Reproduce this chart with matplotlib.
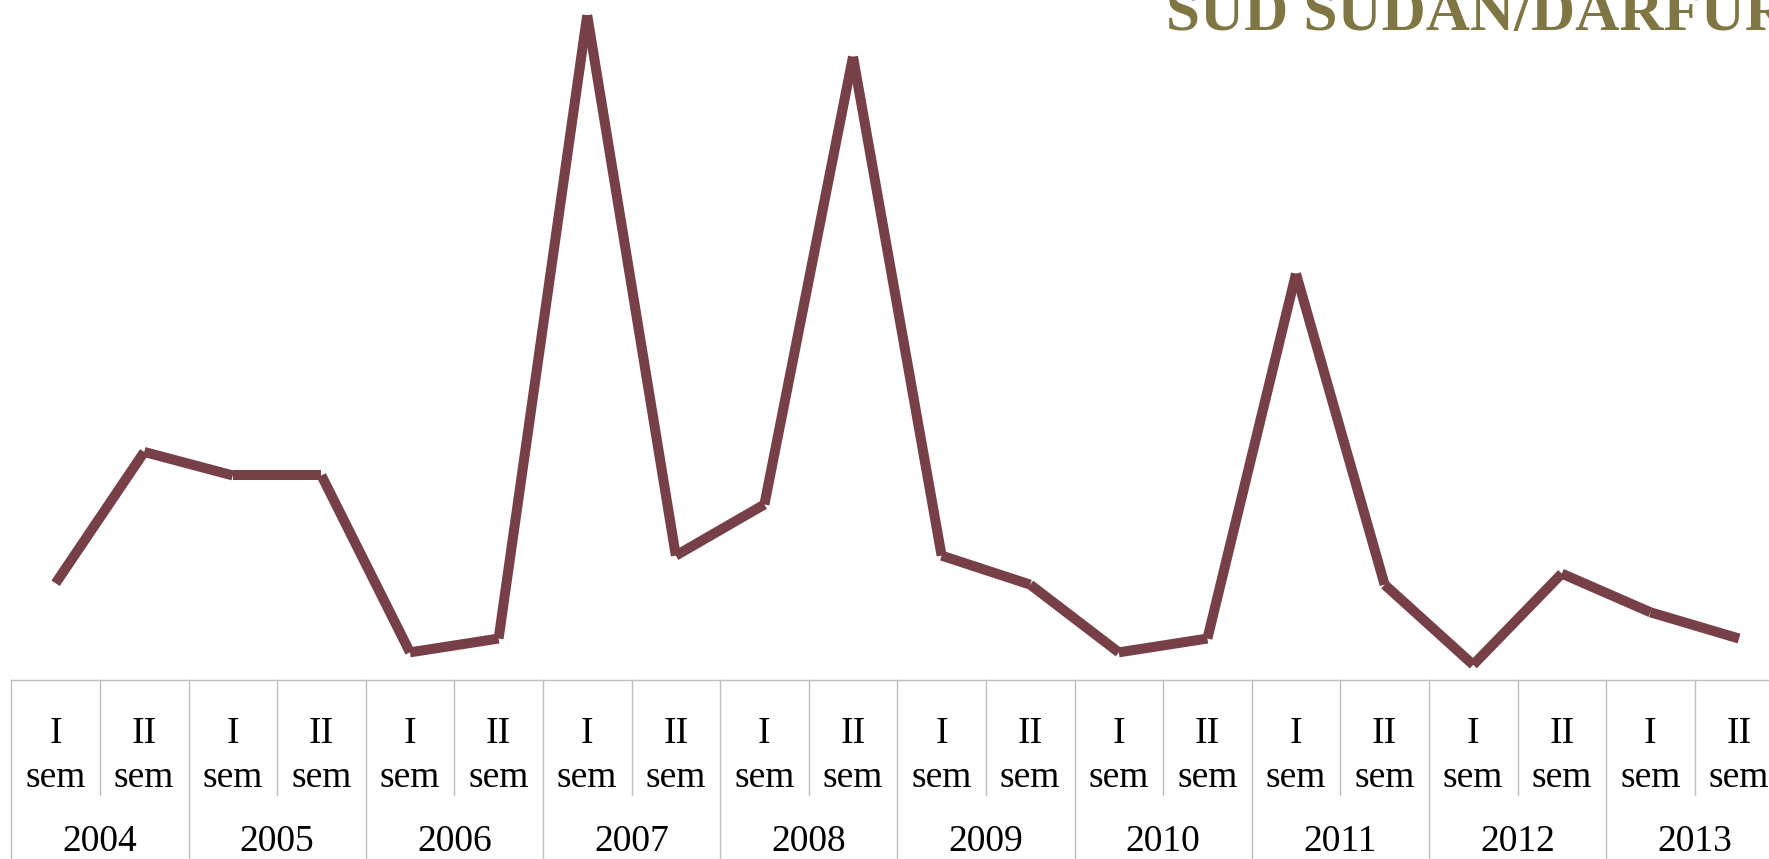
import matplotlib.pyplot as plt
import matplotlib.transforms as mtransforms

# dati (scala arbitraria, nessun asse y visibile)
anni = ['2004', '2005', '2006', '2007', '2008', '2009', '2010', '2011', '2012', '2013']
semestri = ['I', 'II']
valori = [7.0, 16.5, 14.8, 14.8, 2.0, 3.0, 48.1, 9.0, 12.7, 45.1,
          9.0, 6.9, 2.0, 3.0, 29.4, 6.9, 1.1, 7.7, 4.9, 3.0]

colore_linea = '#773F47'
colore_titolo = '#7F7643'
colore_griglia = '#BFBFBF'

W, H = 1769, 859
fig = plt.figure(figsize=(W / 100, H / 100), dpi=100)

x0 = 11.3
passo = 88.6
base = 680  # pixel dall'alto della riga della tabella
ax = fig.add_axes([x0 / W, (H - base) / H, 20 * passo / W, base / H])
ax.set_xlim(0, 20)
ax.set_ylim(0, 49.2)

# segmenti separati con estremi piatti, come in Excel
xs = [i + 0.5 for i in range(len(valori))]
for i in range(len(valori) - 1):
    ax.plot(xs[i:i + 2], valori[i:i + 2], color=colore_linea, lw=7.2,
            solid_capstyle='butt', clip_on=False)

for s in ['top', 'left', 'right']:
    ax.spines[s].set_visible(False)
ax.spines['bottom'].set_color(colore_griglia)
ax.spines['bottom'].set_linewidth(1)
ax.set_xticks([])
ax.set_yticks([])

# tabella delle categorie sotto l'asse
tr = mtransforms.blended_transform_factory(ax.transData, ax.transAxes)
for k in range(21):
    if k % 2 == 0:
        ax.plot([k, k], [0, -0.3], color=colore_griglia, lw=1, transform=tr, clip_on=False)
    else:
        ax.plot([k, k], [0, -0.169], color=colore_griglia, lw=1, transform=tr, clip_on=False)

def ybase(px):
    return -(px - base) / base

font = dict(fontsize=27, family='Liberation Serif', ha='center', va='baseline')
for i in range(20):
    ax.text(i + 0.5, ybase(743), semestri[i % 2], transform=tr, **font)
    ax.text(i + 0.5, ybase(787), 'sem', transform=tr, **font)
for j, a in enumerate(anni):
    ax.text(2 * j + 1, ybase(851), a, transform=tr, **font)

fig.text(1166 / W, (H - 30) / H, 'SUD SUDAN/DARFUR', color=colore_titolo,
         fontsize=44, fontweight='bold', family='Liberation Serif',
         ha='left', va='baseline')

fig.savefig('out.png', dpi=100)
